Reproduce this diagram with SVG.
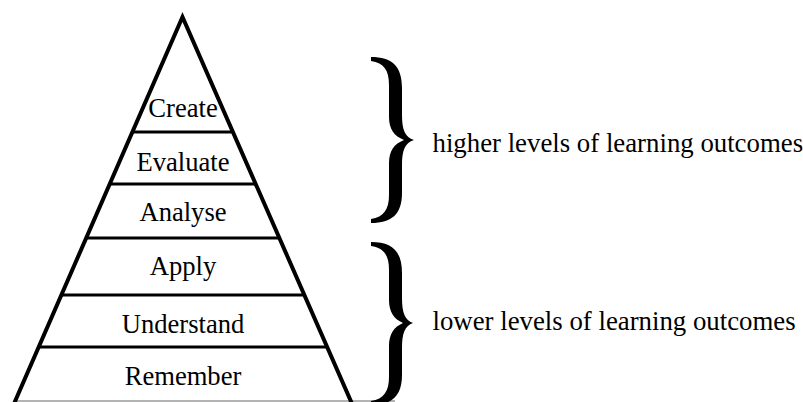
<svg xmlns="http://www.w3.org/2000/svg" width="803" height="402" viewBox="0 0 803 402">
  <style>
    .lbl { font-family: "Liberation Serif", "Times New Roman", serif; font-size: 26.6px; fill: #000; }
    .side { font-size: 26.8px; }
    .mid { text-anchor: middle; }
    .div { stroke: #000; stroke-width: 3; fill: none; }
    .tri { stroke: #000; stroke-width: 4; fill: none; stroke-linejoin: miter; stroke-miterlimit: 10; }
    .brace { fill: #000; }
  </style>
  <rect width="803" height="402" fill="#fff"/>
  <g id="connectors">
    <line x1="15" y1="401" x2="395" y2="401" stroke="#9a9a9a" stroke-width="1.5"/>
  </g>
  <g id="pyramid">
    <line class="div" x1="132" y1="132" x2="233" y2="132"/>
    <line class="div" x1="110" y1="184" x2="256" y2="184"/>
    <line class="div" x1="86" y1="238" x2="279" y2="238"/>
    <line class="div" x1="61" y1="295" x2="304" y2="295"/>
    <line class="div" x1="38" y1="347" x2="327" y2="347"/>
    <path class="tri" d="M13,406 L182.5,17 L353,406"/>
  </g>
  <g id="level-create"><text class="lbl mid" x="183" y="117">Create</text></g>
  <g id="level-evaluate"><text class="lbl mid" x="183" y="171">Evaluate</text></g>
  <g id="level-analyse"><text class="lbl mid" x="183" y="221">Analyse</text></g>
  <g id="level-apply"><text class="lbl mid" x="183" y="275">Apply</text></g>
  <g id="level-understand"><text class="lbl mid" x="183" y="333">Understand</text></g>
  <g id="level-remember"><text class="lbl mid" x="183" y="385">Remember</text></g>
  <g id="higher-group">
    <path class="brace" d="M371,57 C392,57 402,66 402,88 L402,115 C402,130 405,137 414,140 C405,143 402,150 402,165 L402,193 C402,214 392,223 371,223 L371,219 C384,217 389,209 389,195 L389,163 C389,151 394,144 404,140 C394,136 389,129 389,117 L389,85 C389,70 384,63 371,61 Z"/>
    <text class="lbl side" x="432.5" y="152">higher levels of learning outcomes</text>
  </g>
  <g id="lower-group">
    <path class="brace" d="M371,242 C392,242 402,251 402,273 L402,298 C402,313 405,320 413,323 C405,326 402,333 402,348 L402,375 C402,396 392,405 371,405 L371,401 C384,399 389,391 389,377 L389,346 C389,334 394,327 403,323 C394,319 389,312 389,300 L389,270 C389,255 384,248 371,246 Z"/>
    <text class="lbl side" x="432.5" y="330">lower levels of learning outcomes</text>
  </g>
</svg>
